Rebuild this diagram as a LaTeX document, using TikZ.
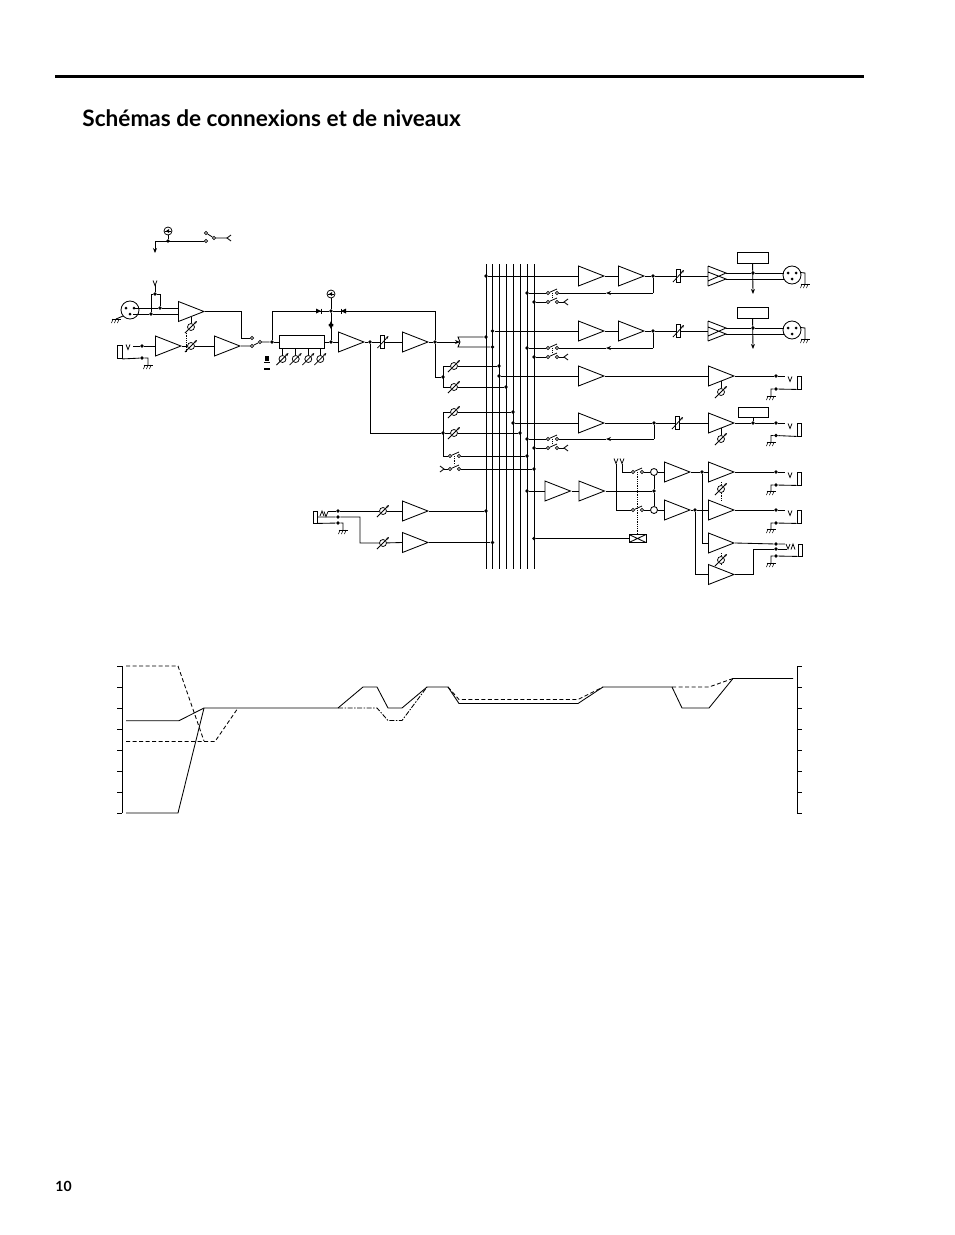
\documentclass[tikz,border=0pt]{standalone}
\usepackage{fontspec}
\setmainfont{Lato}
\usetikzlibrary{shapes.geometric,arrows.meta,calc}
\tikzset{
 x=1pt,y=-1pt,
 wire/.style={line width=.85pt},
 jn/.style={circle,fill=black,inner sep=0pt,minimum size=3.8pt},
 oc/.style={circle,draw,fill=white,inner sep=0pt,minimum size=3.2pt,line width=.7pt},
 ampn/.style={isosceles triangle,isosceles triangle stretches,draw,line width=.85pt,inner sep=0pt,minimum height=25.5pt,minimum width=20pt,shape border rotate=0},
 fadn/.style={circle,draw,fill=white,inner sep=0pt,minimum size=7pt,line width=.75pt},
 rfadn/.style={rectangle,draw,fill=white,inner sep=0pt,minimum width=4pt,minimum height=13pt,line width=.75pt},
 boxn/.style={rectangle,draw,fill=white,inner sep=0pt,line width=.85pt},
 xlrn/.style={circle,draw,fill=white,inner sep=0pt,minimum size=18pt,line width=.85pt},
 arr/.style={-{Stealth[length=5pt,width=4pt]}},
 arrm/.style={-{Stealth[length=5pt,width=4pt]}},
 dotl/.style={densely dotted,line width=.8pt},
 axis/.style={line width=1pt},
 lev/.style={line width=.85pt},
 levd/.style={line width=.85pt,dash pattern=on 4pt off 2.5pt},
 levc/.style={line width=.85pt,dash pattern=on 5pt off 1.5pt on 1.5pt off 1.5pt},
}
\newcommand\Amp[3]{\node[ampn,anchor=lower side] (#1) at (#2,#3) {};}
\newcommand\Jn[3]{\node[jn] (#1) at (#2,#3) {};}
\newcommand\Oc[3]{\node[oc] (#1) at (#2,#3) {};}
\newcommand\Fad[3]{\node[fadn] (#1) at (#2,#3) {};\draw[-{Stealth[length=3pt,width=2.5pt]},line width=.75pt] ({#2-6},{#3+6}) -- ({#2+6},{#3-6});}
\newcommand\RFad[3]{\node[rfadn] (#1) at (#2,#3) {};\draw[-{Stealth[length=3pt,width=2.5pt]},line width=.75pt] ({#2-5},{#3+6}) -- ({#2+6},{#3-6});}
\newcommand\Ph[3]{\node[circle,draw,fill=white,inner sep=0pt,minimum size=8pt,line width=.75pt] (#1) at (#2,#3) {};\draw[line width=.75pt] ({#2-3},#3) -- ({#2+3},#3);\fill ({#2-2},#3) -- ({#2+1},{#3-2}) -- ({#2+1},{#3+2}) -- cycle;}
\newcommand\Vm[2]{\draw[line width=.75pt] ({#1-2},{#2-2.5}) -- (#1,{#2+2.5}) -- ({#1+2},{#2-2.5});}
\newcommand\Lt[2]{\draw[wire] ({#1+4},{#2-3}) -- (#1,#2) -- ({#1+4},{#2+3});}
\newcommand\Gnd[3]{\coordinate (#1) at (#2,#3);\draw[wire] ({#2-4.5},#3) -- ({#2+4.5},#3);\foreach \dx in {-3,0,3}{\draw[line width=.55pt] ({#2+\dx},#3) -- ({#2+\dx-1.5},{#3+4});}}
\newcommand\Sw[3]{\node[oc] (#1a) at (#2,#3) {};\node[oc] (#1b) at ({#2+9},#3) {};\draw[line width=.75pt] (#1a) -- ({#2+9},{#3-4});}
\newcommand\Xlr[3]{\node[xlrn] (#1) at (#2,#3) {};\fill ({#2-4},{#3-2}) circle (1.5pt) ({#2+4},{#3-2}) circle (1.5pt) (#2,{#3+4}) circle (1.5pt);}
\newcommand\Dbl[2]{\draw[line width=.85pt] (#1,{#2-10}) -- ({#1+18},{#2-3}) -- (#1,{#2+5}) (#1,{#2-4}) -- ({#1+18},{#2+3}) -- (#1,{#2+10}) (#1,{#2-10}) -- (#1,{#2+10});}
\begin{document}
\begin{tikzpicture}[wire]
\useasboundingbox (0,0) rectangle (954,1235);
\node[inner sep=0pt] (rule) at (459.5,76) {\rule{809pt}{3pt}};
\node[anchor=base west,inner sep=0pt,font=\fontsize{22.6}{26}\bfseries] (title) at (82,126) {Schémas de connexions et de niveaux};
\node[anchor=base west,inner sep=0pt,font=\fontsize{14}{16}\bfseries] (page) at (55,1191) {10};

% --- bus bars
\foreach \n/\x in {a/486,b/492.5,c/499,d/506,e/513,f/520,g/527,h/534}{
  \coordinate (bus\n t) at (\x,264);
  \coordinate (bus\n b) at (\x,569);
  \draw[line width=.9pt] (bus\n t) -- (bus\n b);
}

% --- phantom power
\Ph{ph1}{168}{231}
\Jn{ph1j}{168}{241}
\coordinate (ph1d) at (155,241);
\coordinate (ph1e) at (155,253);
\Oc{ph1u}{206}{233}
\Oc{ph1l}{206}{241}
\Oc{ph1p}{214}{238}
\coordinate (ph1v) at (227,238);
\draw (ph1) -- (ph1j);
\draw (ph1l) -- (ph1d);
\draw[arr] (ph1d) -- (ph1e);
\draw (ph1u) -- (ph1p) -- (ph1v);
\Lt{227}{238}

% --- mic input
\Xlr{xin}{130}{310}
\Amp{a1}{178}{311.5}
\Jn{j1}{151}{314}
\Jn{j2}{160}{308}
\Jn{j3}{155}{294}
\coordinate (v1) at (155,285);
\Vm{155}{283}
\draw (133,308) -- (j2) -- (178,308);
\draw (133,314) -- (j1) -- (178,314);
\draw (j1) -- (151,294) -- (j3) -- (160,294) -- (j2);
\draw (j3) -- (v1);
\Gnd{g1}{116}{319}
\draw (123,316) -- (g1);

% --- line input
\node[boxn,minimum width=5pt,minimum height=13pt] (jk1) at (119.5,352) {};
\Vm{128}{347}
\Jn{j4}{142}{346}
\Jn{j5}{142}{358}
\Amp{a2}{155}{346}
\Fad{f1}{191}{346}
\Amp{a3}{214}{346}
\Fad{f2}{191}{327}
\draw (133,346) -- (j4) -- (a2.lower side);
\draw (a2.apex) -- (f1) -- (a3.lower side);
\draw (jk1.south east) -- (j5) -- (148,358) -- (148,365);
\Gnd{g2}{148}{365}
\draw (191,317) -- (f2);
\draw[dotl] (186,331) -- (186,351);

% --- input select
\Oc{s1u}{252}{338}
\Oc{s1l}{252}{346}
\Oc{s1p}{260}{342}
\Jn{j6}{272}{342}
\coordinate (b1) at (241,311.5);
\coordinate (b2) at (241,338);
\draw (a1.apex) -- (b1) -- (b2) -- (s1u);
\draw (a3.apex) -- (s1l) -- (s1p) -- (j6);
\coordinate (b3) at (272,311);
\node[boxn,minimum width=45pt,minimum height=13pt] (eq) at (301.5,341.5) {};
\Jn{j7}{331}{342}
\Jn{j8}{331}{311}
\Ph{ph2}{331}{294}
\draw (j6) -- (eq.west |- j6);
\draw (j6) -- (b3) -- (j8);
\draw (eq.east |- j7) -- (j7);
\draw (ph2) -- (j8) -- (j7);
\coordinate (b4) at (435,311);
\draw (j8) -- (b4);
\fill (321,311) -- (316,308.5) -- (316,313.5) -- cycle;
\draw[line width=.85pt] (321,308.5) -- (321,313.5);
\fill (341,311) -- (346,308.5) -- (346,313.5) -- cycle;
\draw[line width=.85pt] (341,308.5) -- (341,313.5);
\fill (331,321) -- (328.5,326) -- (333.5,326) -- cycle;
\fill (331,329) -- (328.5,324) -- (333.5,324) -- cycle;
\foreach \n/\x in {1/282.5,2/295.7,3/308.3,4/320.3}{
  \Fad{eqf\n}{\x}{359}
  \draw (eqf\n) -- (eqf\n |- eq.south);
}
\fill (265,356) rectangle (269,361);
\draw[line width=1pt] (264,362.5) -- (270,362.5);
\draw[line width=1.2pt] (264,369) -- (270,369);

% --- channel strip
\Amp{a4}{338}{342}
\Jn{j9}{370}{342}
\RFad{rf1}{382.5}{342}
\Amp{a5}{402}{342}
\Jn{j10}{435}{342}
\draw (j7) -- (a4.lower side);
\draw (a4.apex) -- (j9) -- (rf1) -- (a5.lower side);
\draw (a5.apex) -- (j10);
\draw (b4) -- (j10);
\coordinate (insT) at (458,337);
\coordinate (insB) at (458,347);
\coordinate (insM) at (460,342);
\draw[arrm] (j10) -- (insM);
\Jn{j11}{486}{337}
\Jn{j12}{492.5}{347}
\draw (j11) -- (insT) -- (insM) -- (insB) -- (j12);

% --- sends A
\coordinate (b5) at (435,377);
\Jn{j13}{443}{377}
\Fad{f3}{454}{366}
\Fad{f4}{454}{387}
\Jn{j14}{499}{366}
\Jn{j15}{506}{387}
\draw (j10) -- (b5) -- (j13);
\draw (443,366) -- (443,387);
\draw (443,366) -- (f3) -- (j14);
\draw (443,387) -- (f4) -- (j15);

% --- sends B
\coordinate (b6) at (370,433);
\Jn{j16}{443}{433}
\Fad{f5}{454}{412}
\Fad{f6}{454}{433}
\Jn{j17}{513}{412}
\Jn{j18}{520}{433}
\draw (j9) -- (b6) -- (j16);
\draw (443,412) -- (443,456);
\draw (443,412) -- (f5) -- (j17);
\draw (j16) -- (f6) -- (j18);
\Sw{s2}{450}{456}
\Sw{s3}{450}{469}
\Jn{j19}{527}{456}
\Jn{j20}{534}{469}
\draw (443,456) -- (s2a);
\draw (s2b) -- (j19);
\draw (s3b) -- (j20);
\draw (s3a) -- (444,469);
\draw (440,466) -- (444,469) -- (440,472);
\draw[dotl] (454.5,456) -- (454.5,465);

% --- aux input
\node[boxn,minimum width=4pt,minimum height=12pt] (jk2) at (315,517) {};
\draw[line width=.75pt] (320,516) -- (322,511) -- (324,516);
\Vm{326}{514}
\Jn{j21}{338}{511}
\Jn{j22}{338}{517}
\Jn{j23}{338}{523}
\Fad{f7}{383}{511}
\Fad{f8}{383}{543}
\Amp{a6}{402}{511}
\Amp{a7}{402}{542.5}
\Jn{j24}{486}{511}
\Jn{j25}{492.5}{542.5}
\draw (328,511) -- (j21) -- (f7) -- (a6.lower side);
\draw (a6.apex) -- (j24);
\draw (317,517) -- (j22) -- (360,517) -- (360,543) -- (f8) -- (a7.lower side);
\draw (a7.apex) -- (j25);
\draw (jk2.south east) -- (j23) -- (343,523) -- (343,530);
\Gnd{g3}{343}{530}

% --- row 1
\Jn{r1j}{486}{276}
\Amp{r1a}{578}{276}
\Amp{r1b}{618}{276}
\Jn{r1k}{653}{276}
\RFad{r1r}{678}{276}
\draw (r1j) -- (r1a.lower side);
\draw (r1a.apex) -- (r1b.lower side);
\draw (r1b.apex) -- (r1k) -- (r1r) -- (708,276);
\coordinate (r1c) at (653,293);
\Sw{r1s}{548}{293}
\Sw{r1t}{548}{302}
\Jn{r1m}{527}{293}
\Jn{r1n}{534}{302}
\draw (r1k) -- (r1c);
\draw[-{Stealth[length=5pt,width=4pt]}] (r1c) -- (606,293);
\draw (606,293) -- (r1sb);
\draw (r1sa) -- (r1m);
\draw (r1ta) -- (r1n);
\draw (r1tb) -- (564,302);
\Lt{564}{302}
\draw[dotl] (552.5,293) -- (552.5,298);
\Dbl{708}{276}
\node[boxn,minimum width=31pt,minimum height=11pt] (r1box) at (752.5,257.5) {};
\Jn{r1w}{753}{273}
\coordinate (r1z) at (753,294);
\Xlr{r1x}{792}{275}
\draw (726,273) -- (r1w) -- (783.5,273);
\draw (726,279) -- (783.5,279);
\draw[arr] (r1box) -- (r1z);
\coordinate (r1g) at (805,273);
\Gnd{r1h}{805}{284}
\draw (800.5,272.5) -- (r1g) -- (r1h);

% --- row 2
\Jn{r2j}{492.5}{331}
\Amp{r2a}{578}{331}
\Amp{r2b}{618}{331}
\Jn{r2k}{653}{331}
\RFad{r2r}{678}{331}
\draw (r2j) -- (r2a.lower side);
\draw (r2a.apex) -- (r2b.lower side);
\draw (r2b.apex) -- (r2k) -- (r2r) -- (708,331);
\coordinate (r2c) at (653,348);
\Sw{r2s}{548}{348}
\Sw{r2t}{548}{357}
\Jn{r2m}{527}{348}
\Jn{r2n}{534}{357}
\draw (r2k) -- (r2c);
\draw[-{Stealth[length=5pt,width=4pt]}] (r2c) -- (606,348);
\draw (606,348) -- (r2sb);
\draw (r2sa) -- (r2m);
\draw (r2ta) -- (r2n);
\draw (r2tb) -- (564,357);
\Lt{564}{357}
\draw[dotl] (552.5,348) -- (552.5,353);
\Dbl{708}{331}
\node[boxn,minimum width=31pt,minimum height=11pt] (r2box) at (752.5,312.5) {};
\Jn{r2w}{753}{328}
\coordinate (r2z) at (753,349);
\Xlr{r2x}{792}{330}
\draw (726,328) -- (r2w) -- (783.5,328);
\draw (726,334) -- (783.5,334);
\draw[arr] (r2box) -- (r2z);
\coordinate (r2g) at (805,328);
\Gnd{r2h}{805}{339}
\draw (800.5,327.5) -- (r2g) -- (r2h);

% --- row 3
\Jn{r3j}{499}{376}
\Amp{r3a}{578}{376}
\Amp{r3b}{708}{376}
\Jn{r3k}{776}{376}
\Jn{r3l}{776}{389}
\Fad{r3f}{721}{392}
\node[boxn,minimum width=4pt,minimum height=13pt] (r3q) at (799,382.5) {};
\draw (r3j) -- (r3a.lower side);
\draw (r3a.apex) -- (r3b.lower side);
\draw (r3b.apex) -- (r3k) -- (785,376);
\Vm{790}{379}
\draw (r3q.south west) -- (r3l) -- (771,389) -- (771,396);
\Gnd{r3g}{771}{396}
\draw (721,381) -- (r3f);

% --- row 4
\Jn{r4j}{513}{423}
\Amp{r4a}{578}{423}
\Jn{r4k}{654}{423}
\RFad{r4r}{677}{423}
\Amp{r4b}{708}{423}
\Jn{r4w}{753}{423}
\Jn{r4l}{776}{423}
\Jn{r4p}{776}{435.5}
\Fad{r4f}{721}{439}
\node[boxn,minimum width=30pt,minimum height=10pt] (r4box) at (753,412) {};
\node[boxn,minimum width=4pt,minimum height=13pt] (r4q) at (799,429.5) {};
\draw (r4j) -- (r4a.lower side);
\draw (r4a.apex) -- (r4k) -- (r4r) -- (r4b.lower side);
\draw (r4b.apex) -- (r4w) -- (r4l) -- (785,423);
\draw (r4box) -- (r4w);
\Vm{790}{426}
\draw (r4q.south west) -- (r4p) -- (771,435.5) -- (771,442);
\Gnd{r4g}{771}{442}
\draw (721,428) -- (r4f);
\coordinate (r4c) at (654,439);
\Sw{r4s}{548}{439}
\Sw{r4t}{548}{448}
\Jn{r4m}{527}{439}
\Jn{r4n}{534}{448}
\draw (r4k) -- (r4c);
\draw[-{Stealth[length=5pt,width=4pt]}] (r4c) -- (606,439);
\draw (606,439) -- (r4sb);
\draw (r4sa) -- (r4m);
\draw (r4ta) -- (r4n);
\draw (r4tb) -- (564,448);
\Lt{564}{448}
\draw[dotl] (552.5,439) -- (552.5,444);

% --- stereo section
\Jn{s5j}{527}{491}
\Amp{s5a}{544.5}{491}
\Amp{s5b}{578.5}{491}
\Jn{s5k}{654}{491}
\draw (s5j) -- (s5a.lower side);
\draw (s5a.apex) -- (s5b.lower side);
\draw (s5b.apex) -- (s5k);
\node[circle,draw,fill=white,inner sep=0pt,minimum size=7pt] (c1) at (654,472) {};
\node[circle,draw,fill=white,inner sep=0pt,minimum size=7pt] (c2) at (654,510) {};
\draw (c1) -- (s5k) -- (c2);
\Vm{616}{461}
\Vm{622}{461}
\Sw{t1}{633}{472}
\Sw{t2}{633}{510}
\coordinate (t1a1) at (622,472);
\coordinate (t2a1) at (616,510);
\draw (622,464) -- (t1a1) -- (t1a);
\draw (616,464) -- (t2a1) -- (t2a);
\draw (t1b) -- (c1);
\draw (t2b) -- (c2);
\node[boxn,minimum width=17pt,minimum height=8pt,path picture={\draw (path picture bounding box.north west) -- (path picture bounding box.south east) (path picture bounding box.north east) -- (path picture bounding box.south west);}] (xb) at (637.5,538.5) {};
\Jn{xbj}{534}{538.5}
\draw (xbj) -- (xb);
\draw[dotl] (637.5,472) -- (637.5,534);
\Amp{c3}{664}{472}
\Amp{c4}{664}{510}
\Amp{e1}{708}{472}
\Amp{e2}{708}{510}
\Amp{e3}{708}{543}
\Amp{e4}{708}{574.5}
\Jn{k1}{702}{472}
\Jn{k2}{695}{510}
\draw (c1) -- (c3.lower side);
\draw (c2) -- (c4.lower side);
\draw (c3.apex) -- (k1) -- (e1.lower side);
\draw (c4.apex) -- (k2) -- (e2.lower side);
\draw (k1) -- (702,543) -- (e3.lower side);
\draw (k2) -- (695,574.5) -- (e4.lower side);
\Fad{f9}{721}{489}
\Fad{f10}{721}{560}
\draw[dotl] (721,482) -- (f9) -- (721,501);
\draw[dotl] (721,553) -- (f10) -- (721,565);
\Jn{o1}{776}{472}
\Jn{o2}{776}{485}
\Jn{o3}{776}{510}
\Jn{o4}{776}{523}
\Jn{o5}{776}{544}
\Jn{o6}{776}{549}
\Jn{o7}{776}{556}
\node[boxn,minimum width=4pt,minimum height=13pt] (q1) at (799,478.5) {};
\node[boxn,minimum width=4pt,minimum height=13pt] (q2) at (799,516.5) {};
\node[boxn,minimum width=4pt,minimum height=12pt] (q3) at (800,550) {};
\draw (e1.apex) -- (o1) -- (785,472);
\Vm{790}{475}
\draw (q1.south west) -- (o2) -- (771,485) -- (771,491);
\Gnd{g4}{771}{491}
\draw (e2.apex) -- (o3) -- (785,510);
\Vm{790}{513}
\draw (q2.south west) -- (o4) -- (771,523) -- (771,529);
\Gnd{g5}{771}{529}
\draw (e3.apex) -- (o5) -- (785,544);
\Vm{788}{546.5}
\draw[line width=.75pt] (791,549.5) -- (793,544) -- (795,549.5);
\coordinate (h1) at (753,574.5);
\coordinate (h2) at (753,549);
\draw (e4.apex) -- (h1) -- (h2) -- (o6) -- (787,549);
\draw (q3.south west) -- (o7) -- (771,556) -- (771,563);
\Gnd{g6}{771}{563}

% --- level diagram
\coordinate (la) at (122,666);
\coordinate (lb) at (122,813);
\coordinate (ra) at (797,666);
\coordinate (rb) at (797,813);
\draw[axis] (la) -- (lb);
\draw[axis] (ra) -- (rb);
\foreach \y in {666,687,708,729,750,771,792,813}{
  \draw[axis] (117,\y) -- (la |- 0,\y);
  \draw[axis] (ra |- 0,\y) -- (801.5,\y);
}
\draw[lev] (126,720.7) -- (179,720.7) -- (204,708) -- (338,708) -- (363,687) -- (377,687) -- (388,708) -- (402,708) -- (427,687) -- (448,687) -- (459,703.5) -- (578,703.5) -- (603,687) -- (672,687) -- (682,708) -- (709,708) -- (733,678.5) -- (793,678.5);
\draw[lev] (126,813) -- (178,813) -- (204,708);
\draw[levd] (126,666) -- (178,666) -- (204,741);
\draw[levd] (126,741.5) -- (215,741.5) -- (238,708);
\draw[levc] (338,708) -- (377,708) -- (388,720.5) -- (402,720.5) -- (427,687);
\draw[levd] (448,687) -- (459,699.5) -- (578,699.5) -- (603,687);
\draw[levd] (672,687) -- (709,687) -- (733,678.5);
\end{tikzpicture}
\end{document}
